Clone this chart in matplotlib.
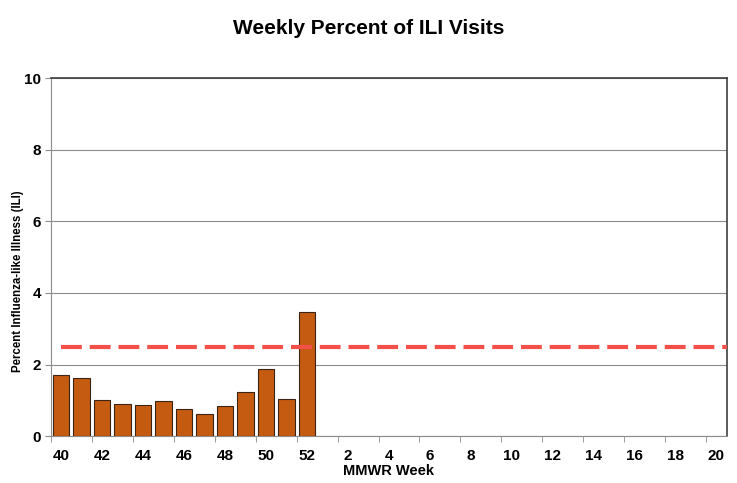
import numpy as np
import matplotlib.pyplot as plt
from matplotlib import font_manager

# MMWR weeks 40-52 then 1-20
weeks = list(range(40, 53)) + list(range(1, 21))
ili_pct = [1.70, 1.61, 1.00, 0.91, 0.87, 0.97, 0.77, 0.61, 0.83, 1.22, 1.87, 1.03, 3.46]
baseline = 2.5

names = {f.name for f in font_manager.fontManager.ttflist}
fam = ['Liberation Sans Narrow'] if 'Liberation Sans Narrow' in names else ['Liberation Sans']
plt.rcParams['font.family'] = fam + ['DejaVu Sans']

fig = plt.figure(figsize=(7.37, 4.83), dpi=100)
ax = fig.add_axes([0.069, 0.097, 0.917, 0.7415])

x = np.arange(len(weeks))
ax.bar(x[:len(ili_pct)], ili_pct, width=0.8, color='#C55A11',
       edgecolor='#3b2414', linewidth=0.8, zorder=3)
ax.plot([0, len(weeks) - 0.5], [baseline, baseline], color='#F4504A',
        linewidth=3, dashes=(5, 1.9), zorder=4)

ax.set_xlim(-0.5, len(weeks) - 0.5)
ax.set_ylim(0, 10)
ax.set_yticks([0, 2, 4, 6, 8, 10])
ax.yaxis.grid(True, color='#8c8c8c', linewidth=0.8, zorder=0)

# labels under every other week, tick marks at category boundaries
ax.set_xticks(x[::2])
ax.set_xticklabels([str(w) for w in weeks[::2]], fontweight='bold', fontsize=11)
ax.set_xticks(np.arange(-0.5, len(weeks), 2), minor=True)
ax.tick_params(axis='x', which='major', length=0, pad=9)
ax.tick_params(axis='x', which='minor', length=4, color='#8c8c8c')
ax.tick_params(axis='y', length=4, color='#8c8c8c', labelsize=11, pad=3)
for lbl in ax.get_yticklabels():
    lbl.set_fontweight('bold')

for s in ['left', 'bottom']:
    ax.spines[s].set_color('#8c8c8c')
for s in ['top', 'right']:
    ax.spines[s].set_color('#404040')
    ax.spines[s].set_linewidth(1.2)

ax.set_xlabel('MMWR Week', fontweight='bold', fontsize=10.5, labelpad=1)
fig.text(18 / 737, 1 - 281 / 483, 'Percent Influenza-like Illness (ILI)',
         rotation=90, ha='center', va='center', fontweight='bold', fontsize=8.3)
fig.text(0.5, 0.942, 'Weekly Percent of ILI Visits', ha='center', va='center',
         fontweight='bold', fontsize=15)

fig.savefig('out.png', dpi=100)
